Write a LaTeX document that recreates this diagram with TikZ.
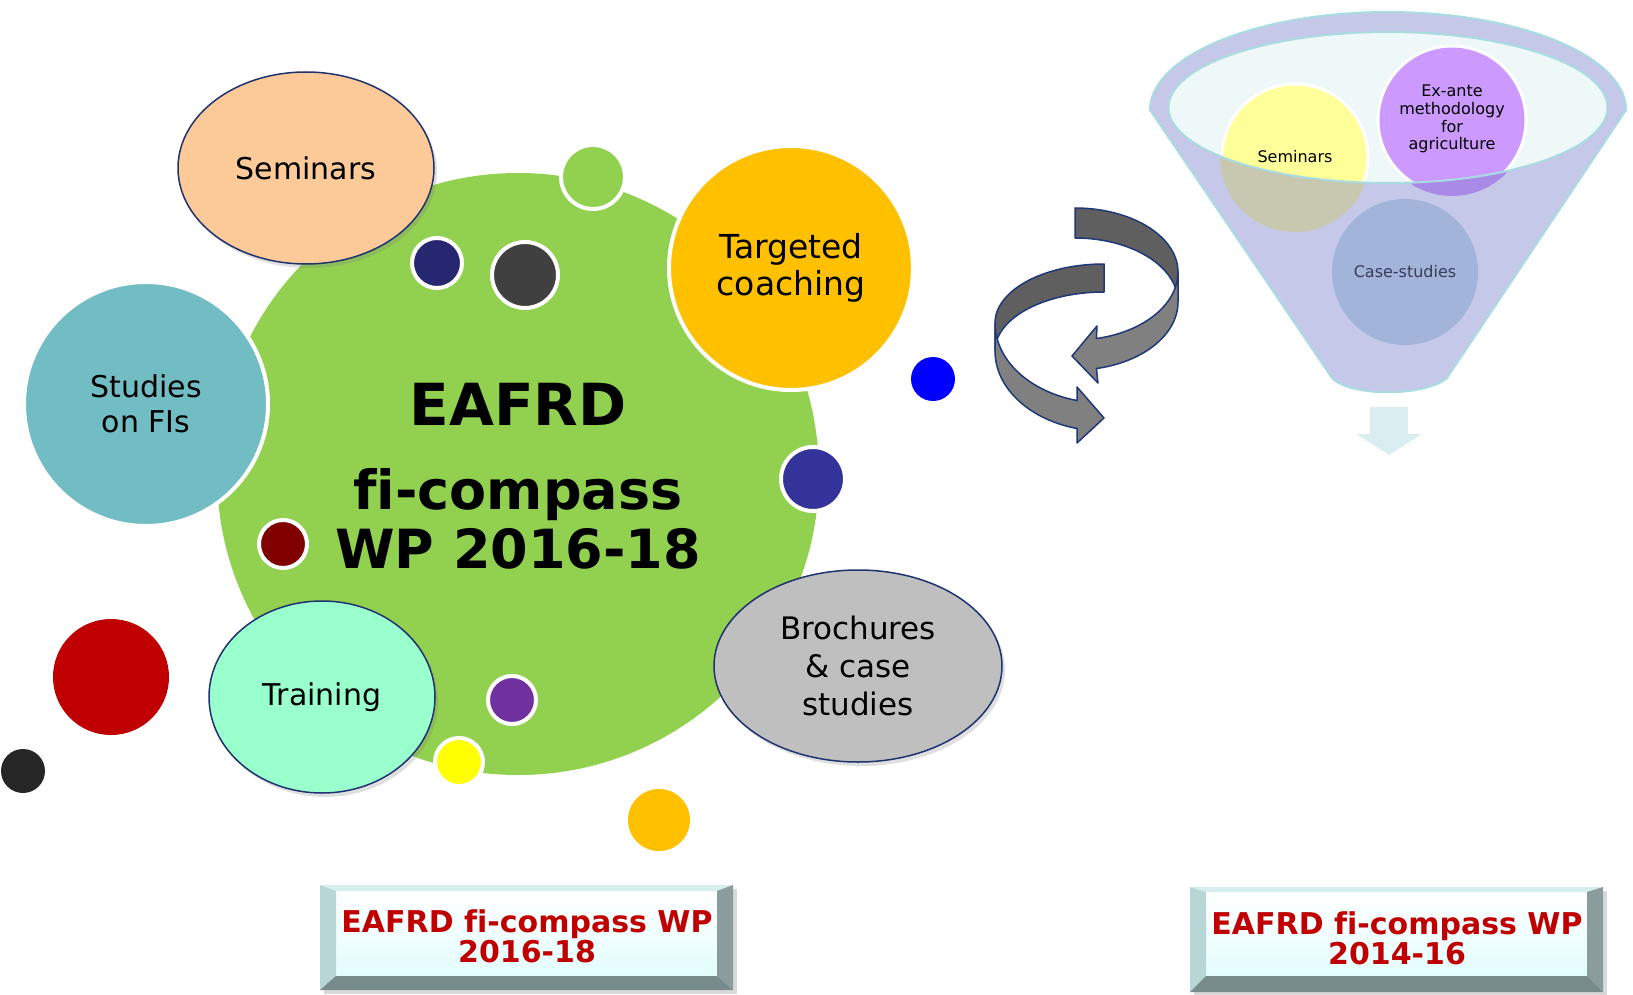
\documentclass[tikz,border=0pt]{standalone}
\usepackage{fontspec}
\setmainfont[Ligatures=NoCommon]{DejaVu Sans}
\usetikzlibrary{shapes.geometric,shadows}
\definecolor{cgreen}{HTML}{92D050}
\definecolor{cpeach}{HTML}{FBCA98}
\definecolor{cteal}{HTML}{71BDC3}
\definecolor{corange}{HTML}{FFC000}
\definecolor{cgrey}{HTML}{BFBFBF}
\definecolor{cmint}{HTML}{99FFCC}
\definecolor{cnavyb}{HTML}{1F3270}
\definecolor{cnavy}{HTML}{262671}
\definecolor{cdgrey}{HTML}{404040}
\definecolor{cblue}{HTML}{0000FF}
\definecolor{cnavym}{HTML}{333399}
\definecolor{cdred}{HTML}{800000}
\definecolor{cpurple}{HTML}{7030A0}
\definecolor{cyel}{HTML}{FFFF00}
\definecolor{cred}{HTML}{C00000}
\definecolor{cblack}{HTML}{262626}
\definecolor{funnelc}{HTML}{C6C8EA}
\definecolor{funnelb}{HTML}{A9DCE0}
\definecolor{rimc}{HTML}{EFF8F8}
\definecolor{fyel}{HTML}{FFFF99}
\definecolor{fyeld}{HTML}{C8C7AF}
\definecolor{fpur}{HTML}{CC99FF}
\definecolor{fpurd}{HTML}{A98AE6}
\definecolor{fcase}{HTML}{A2B4DA}
\definecolor{casetxt}{HTML}{3A3A5A}
\definecolor{darrow}{HTML}{DAEDF0}
\definecolor{arrdk}{HTML}{5F5F5F}
\definecolor{arrlt}{HTML}{808080}
\definecolor{arrline}{HTML}{1F3878}
\definecolor{btxt}{HTML}{C00000}
\definecolor{bface}{HTML}{E2FDFD}
\definecolor{btop}{HTML}{D6EEEE}
\definecolor{bleft}{HTML}{B8D6D6}
\definecolor{bright}{HTML}{8A9C9C}
\definecolor{bbot}{HTML}{778B8B}
\tikzset{
  bubble/.style={circle,inner sep=0pt,draw=white,line width=4pt},
  dot/.style={circle,inner sep=0pt},
  oval/.style={ellipse,inner sep=0pt,draw=cnavyb,line width=1.5pt,align=center,
     drop shadow={opacity=0.25,shadow xshift=3pt,shadow yshift=-4pt}},
  lbl/.style={font=\fontsize{30}{35}\selectfont,align=center},
  maintxt/.style={font=\bfseries\fontsize{54}{60}\selectfont,anchor=base},
  fbubble/.style={circle,inner sep=0pt,draw=white,line width=3pt},
  ftxt/.style={font=\fontsize{16}{17.7}\selectfont,align=center},
  arrowdk/.style={fill=arrdk,draw=arrline,line width=1.5pt,line join=round},
  arrowlt/.style={fill=arrlt,draw=arrline,line width=1.5pt,line join=round},
  btntxt/.style={font=\bfseries\fontsize{30}{30}\selectfont,text=btxt,align=center},
  btnface/.style={rectangle,inner sep=0pt,top color=white,bottom color=bface}
}
\begin{document}
\begin{tikzpicture}[x=1pt,y=-1pt]
\useasboundingbox (0,0) rectangle (1633,995);

% ---------- main cluster ----------
\node[dot,fill=cgreen,minimum size=602pt] (main) at (518,474) {};
\node[maintxt,font=\bfseries\fontsize{58}{60}\selectfont] (eafrd) at (518,425) {EAFRD};
\node[maintxt] (ficomp) at (518,509) {fi-compass};
\node[maintxt] (wp) at (518,568) {WP 2016-18};

\node[oval,fill=cpeach,minimum width=256pt,minimum height=192pt,lbl] (seminars) at (306,168) {Seminars};
\node[bubble,fill=cteal,minimum size=244pt,lbl] (studies) at (146,404) {Studies\\on FIs};
\node[bubble,fill=corange,minimum size=244pt,lbl,font=\fontsize{33}{37.5}\selectfont] (coaching) at (791,268) {Targeted\\coaching};
\node[oval,fill=cgrey,minimum width=288pt,minimum height=192pt,lbl,font=\fontsize{31}{38}\selectfont] (brochures) at (858,666) {Brochures\\\& case\\studies};
\node[oval,fill=cmint,minimum width=226pt,minimum height=192pt,lbl] (training) at (322,697) {Training};

\node[bubble,fill=cgreen,minimum size=64pt] (sgreen) at (593,177) {};
\node[bubble,fill=cnavy,minimum size=50pt] (snavy) at (437,263) {};
\node[bubble,fill=cdgrey,minimum size=66pt] (sdgrey) at (525,275) {};
\node[dot,fill=cblue,minimum size=44pt] (sblue) at (933,379) {};
\node[bubble,fill=cnavym,minimum size=64pt] (snavym) at (813,479) {};
\node[bubble,fill=cdred,minimum size=48pt] (sdred) at (283,544) {};
\node[bubble,fill=cpurple,minimum size=48pt] (spurple) at (512,700) {};
\node[bubble,fill=cyel,minimum size=48pt] (syel) at (459,762) {};
\node[dot,fill=corange,minimum size=62pt] (sorange) at (659,820) {};
\node[dot,fill=cred,minimum size=116pt] (sred) at (111,677) {};
\node[dot,fill=cblack,minimum size=44pt] (sblack) at (23,771) {};

% ---------- circular arrows ----------
\filldraw[arrowdk] plot[domain=90:180,samples=40] ({1104+109*cos(-\x)},{323+59*sin(-\x)})
  -- plot[domain=-180:-90,samples=40] ({1104+109*cos(\x)},{351+59*sin(\x)}) -- cycle;
\filldraw[arrowlt] plot[domain=-180:-104.3,samples=40] ({1104+109*cos(-\x)},{323+80*sin(-\x)})
  -- (1077,387) -- (1104,418) -- (1077,443)
  -- plot[domain=104.3:180,samples=40] ({1104+109*cos(\x)},{351+80*sin(\x)}) -- cycle;
\filldraw[arrowdk] plot[domain=-90:0,samples=40] ({1075+103*cos(\x)},{272+64*sin(\x)})
  -- plot[domain=0:90,samples=40] ({1075+103*cos(-\x)},{302+64*sin(-\x)}) -- cycle;
\filldraw[arrowlt] plot[domain=0:78,samples=40] ({1075+103*cos(\x)},{272+68*sin(\x)})
  -- (1097,326) -- (1072,356) -- (1098,383)
  -- plot[domain=-78:0,samples=40] ({1075+103*cos(-\x)},{302+68*sin(-\x)}) -- cycle;

% ---------- funnel ----------
\filldraw[fill=funnelc,draw=funnelb,line width=2pt,line join=round]
  plot[domain=180:360,samples=80] ({1388+238*cos(\x)},{110+98*sin(\x)})
  -- (1447,378) .. controls (1425,397) and (1350,397) .. (1332,378) -- cycle;
\node[ellipse,inner sep=0pt,fill=rimc,minimum width=439pt,minimum height=151pt] (rim) at (1388,107.5) {};
\node[fbubble,fill=fyel,minimum size=146pt] (fsem) at (1295,157) {};
\node[fbubble,fill=fpur,minimum size=148pt] (fexa) at (1452,120) {};
\node[dot,fill=fcase,minimum size=146pt] (fcase) at (1405,272) {};
\begin{scope}
  \clip (1295,157) circle[radius=75];
  \fill[fyeld,even odd rule] (1100,0) rectangle (1633,420) (1388,107.5) ellipse[x radius=219.5,y radius=75.5];
\end{scope}
\begin{scope}
  \clip (1452,120) circle[radius=76];
  \fill[fpurd,even odd rule] (1100,0) rectangle (1633,420) (1388,107.5) ellipse[x radius=219.5,y radius=75.5];
\end{scope}
\draw[funnelb,line width=2pt] (rim.center) ellipse[x radius=219.5,y radius=75.5];
\node[ftxt] (fsemt) at (1295,157) {Seminars};
\node[ftxt] (fexat) at (1452,119) {Ex-ante\\methodology\\for\\agriculture};
\node[ftxt,text=casetxt] (fcaset) at (1405,272) {Case-studies};
\fill[darrow] (1370,407) -- (1408,407) -- (1408,434) -- (1422,434) -- (1389,455) -- (1356,434) -- (1370,434) -- cycle;

% ---------- buttons ----------
\fill[black,opacity=0.15] (324,889) rectangle (737,994);
\node[btnface,minimum width=381pt,minimum height=85pt] (btn1) at (526.5,933.5) {};
\fill[btop] (320,885) -- (733,885) -- (717,891) -- (336,891) -- cycle;
\fill[bleft] (320,885) -- (336,891) -- (336,976) -- (320,990) -- cycle;
\fill[bright] (733,885) -- (733,990) -- (717,976) -- (717,891) -- cycle;
\fill[bbot] (320,990) -- (336,976) -- (717,976) -- (733,990) -- cycle;
\node[btntxt] (btn1t) at (527,936) {EAFRD fi-compass WP\\2016-18};

\fill[black,opacity=0.15] (1194,891) rectangle (1607,996);
\node[btnface,minimum width=381pt,minimum height=84pt] (btn2) at (1396.5,934) {};
\fill[btop] (1190,887) -- (1603,887) -- (1587,892) -- (1206,892) -- cycle;
\fill[bleft] (1190,887) -- (1206,892) -- (1206,976) -- (1190,992) -- cycle;
\fill[bright] (1603,887) -- (1603,992) -- (1587,976) -- (1587,892) -- cycle;
\fill[bbot] (1190,992) -- (1206,976) -- (1587,976) -- (1603,992) -- cycle;
\node[btntxt] (btn2t) at (1397,938) {EAFRD fi-compass WP\\2014-16};
\end{tikzpicture}
\end{document}
